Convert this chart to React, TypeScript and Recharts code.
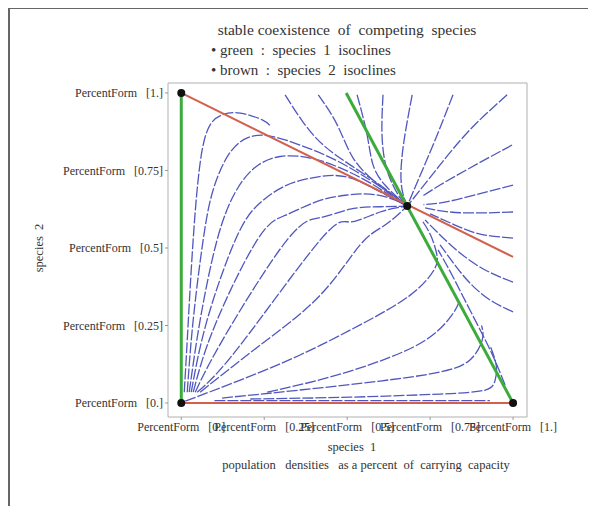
import React from 'react';
import { ComposedChart, Line, Scatter, XAxis, YAxis, ReferenceArea } from 'recharts';

type P = [number, number];

// axis ticks
const xTicks = [0, 0.25, 0.5, 0.75, 1];
const yTicks = [0, 0.25, 0.5, 0.75, 1];
const tickLabels = ['0.', '0.25', '0.5', '0.75', '1.'];

// isoclines
const green1: P[] = [[0, 0], [0, 1]];
const green2: P[] = [[0.497, 1], [1, 0]];
const red1: P[] = [[0, 1], [1, 0.471]];
const red2: P[] = [[0, 0], [1, 0]];

// equilibria
const equilibria: P[] = [[0, 0], [1, 0], [0, 1], [0.681, 0.635]];

// streamlines
const fan1: P[] = [[.009, .035], [.018, .203], [.030, .429], [.045, .655], [.063, .816], [.087, .897], [.123, .929], [.178, .935], [.244, .913], [.268, .894]];
const fan2: P[] = [[.018, .035], [.036, .268], [.066, .526], [.096, .687], [.142, .800], [.199, .855], [.268, .861], [.358, .832], [.464, .784], [.569, .719], [.645, .665], [.681, .635]];
const fan3: P[] = [[.024, .035], [.057, .268], [.108, .526], [.163, .680], [.223, .760], [.298, .795], [.389, .790], [.479, .758], [.569, .710], [.645, .658], [.681, .635]];
const fan4: P[] = [[.030, .035], [.078, .268], [.163, .526], [.232, .640], [.313, .700], [.404, .728], [.494, .730], [.584, .690], [.654, .650], [.681, .635]];
const fan5: P[] = [[.036, .035], [.102, .252], [.229, .526], [.313, .605], [.404, .648], [.494, .670], [.584, .672], [.660, .648], [.681, .635]];
const fan6: P[] = [[.042, .035], [.133, .219], [.319, .526], [.419, .598], [.509, .625], [.599, .633], [.681, .635]];
const fan7: P[] = [[.048, .035], [.178, .187], [.419, .526], [.509, .584], [.599, .616], [.681, .635]];
const fan8: P[] = [[.057, .035], [.238, .187], [.419, .348], [.539, .510], [.614, .574], [.681, .635]];
const loop1: P[] = [[.012, .006], [.178, .074], [.358, .155], [.539, .252], [.690, .348], [.762, .430], [.770, .480], [.752, .540], [.725, .590]];
const loop2: P[] = [[.259, .035], [.449, .084], [.630, .148], [.750, .213], [.816, .284], [.840, .332]];
const loop3: P[] = [[.123, .016], [.358, .042], [.599, .071], [.780, .100], [.870, .139], [.907, .203], [.905, .250]];
const loop4: P[] = [[.208, .013], [.509, .019], [.780, .029], [.916, .042], [.946, .074], [.949, .123], [.930, .187]];
const axisFlow: P[] = [[.10, .008], [.50, .008], [.93, .008]];
const rise1: P[] = [[.976, .058], [.931, .171], [.870, .300], [.816, .413], [.774, .494]];
const top1: P[] = [[.313, .994], [.367, .906], [.428, .832], [.509, .768], [.599, .703], [.681, .635]];
const top2: P[] = [[.413, .994], [.470, .897], [.518, .790], [.584, .713], [.645, .661], [.681, .635]];
const top3: P[] = [[.530, .994], [.560, .865], [.578, .768], [.614, .703], [.660, .655], [.681, .635]];
const top4: P[] = [[.608, .994], [.605, .865], [.620, .752], [.654, .671], [.681, .635]];
const top5: P[] = [[.696, .994], [.672, .850], [.662, .740], [.668, .675], [.681, .635]];
const top6: P[] = [[.819, .994], [.765, .848], [.714, .719], [.681, .635]];
const top7: P[] = [[.982, .994], [.870, .881], [.780, .768], [.720, .687], [.681, .635]];
const edge1: P[] = [[.997, .832], [.870, .758], [.780, .703], [.728, .668]];
const edge2: P[] = [[1.0, .703], [.886, .671], [.795, .648], [.730, .640]];
const edge3: P[] = [[1.0, .616], [.901, .613], [.810, .616], [.735, .629]];
const edge4: P[] = [[1.0, .532], [.901, .545], [.825, .574], [.750, .610]];
const edge5: P[] = [[1.0, .390], [.916, .429], [.840, .484], [.780, .542], [.735, .590]];
const edge6: P[] = [[1.0, .294], [.931, .332], [.870, .387], [.825, .445], [.780, .510]];

const streamlines: P[][] = [fan1, fan2, fan3, fan4, fan5, fan6, fan7, fan8, loop1, loop2, loop3, loop4, axisFlow, rise1,
  top1, top2, top3, top4, top5, top6, top7, edge1, edge2, edge3, edge4, edge5, edge6];

const toObj = (pts: P[]) => pts.map(([x, y]) => ({ x, y }));

const FONT = '"Liberation Serif", "Times New Roman", serif';
const NB = '\u00a0';

const fmt = (v: number) => {
  const i = xTicks.indexOf(v);
  return `PercentForm${NB}${NB}${NB}[${tickLabels[i >= 0 ? i : 0]}]`;
};

export default function App() {
  return (
    <div style={{ position: 'relative', width: 580, height: 498, fontFamily: FONT, color: '#333' }}>
      <div style={{ position: 'absolute', left: 0, top: -1, width: 580, height: 2, background: '#666' }} />
      <div style={{ position: 'absolute', left: 0, top: -1, width: 2, height: 500, background: '#666' }} />
      <div style={{ position: 'absolute', left: 0, width: 678, top: 12, textAlign: 'center', fontSize: 15.5, lineHeight: '19px', whiteSpace: 'pre' }}>
        {`stable coexistence  of  competing  species`}
      </div>
      <div style={{ position: 'absolute', left: 203, top: 33, fontSize: 15, lineHeight: '18px', whiteSpace: 'pre' }}>
        {`• green  :  species  1  isoclines`}
      </div>
      <div style={{ position: 'absolute', left: 203, top: 53, fontSize: 15, lineHeight: '18px', whiteSpace: 'pre' }}>
        {`• brown  :  species  2  isoclines`}
      </div>
      <div style={{ position: 'absolute', left: 31, top: 240, fontSize: 12.5, whiteSpace: 'pre', transform: 'translate(-50%, -50%) rotate(-90deg)' }}>
        {`species  2`}
      </div>
      <div style={{ position: 'absolute', left: 0, width: 688, top: 432, textAlign: 'center', fontSize: 12.5, whiteSpace: 'pre' }}>
        {`species  1`}
      </div>
      <div style={{ position: 'absolute', left: 0, width: 716, top: 450, textAlign: 'center', fontSize: 12.5, whiteSpace: 'pre' }}>
        {`population   densities   as a percent  of  carrying  capacity`}
      </div>
      <div style={{ position: 'absolute', left: 0, top: 0 }}>
        <ComposedChart width={580} height={490} margin={{ top: 75, right: 61, left: 8, bottom: 51 }}>
          <XAxis
            type="number"
            dataKey="x"
            domain={[-0.04, 1.042]}
            ticks={xTicks}
            allowDataOverflow
            interval={0}
            height={30}
            axisLine={false}
            tickLine={{ stroke: '#999' }}
            tickSize={3}
            tickFormatter={fmt}
            tick={{ fontFamily: FONT, fontSize: 12, fill: '#333' }}
          />
          <YAxis
            type="number"
            dataKey="y"
            domain={[-0.045, 1.032]}
            ticks={yTicks}
            allowDataOverflow
            interval={0}
            width={152}
            axisLine={false}
            tickLine={{ stroke: '#999' }}
            tickSize={3}
            tickFormatter={fmt}
            tick={{ fontFamily: FONT, fontSize: 12, fill: '#333' }}
          />
          <ReferenceArea x1={-0.04} x2={1.042} y1={-0.045} y2={1.032} fill="none" stroke="#b0b0b0" strokeWidth={1} ifOverflow="visible" />
          {streamlines.map((s, i) => (
            <Line
              key={'s' + i}
              data={toObj(s)}
              dataKey="y"
              type="natural"
              stroke="#5057bf"
              strokeWidth={1.3}
              strokeDasharray="11 2"
              dot={false}
              activeDot={false}
              isAnimationActive={false}
              legendType="none"
            />
          ))}
          <Line data={toObj(red1)} dataKey="y" type="linear" stroke="#d2604c" strokeWidth={2} dot={false} activeDot={false} isAnimationActive={false} />
          <Line data={toObj(red2)} dataKey="y" type="linear" stroke="#d2604c" strokeWidth={2} dot={false} activeDot={false} isAnimationActive={false} />
          <Line data={toObj(green1)} dataKey="y" type="linear" stroke="#3cab3c" strokeWidth={3} dot={false} activeDot={false} isAnimationActive={false} />
          <Line data={toObj(green2)} dataKey="y" type="linear" stroke="#3cab3c" strokeWidth={3} dot={false} activeDot={false} isAnimationActive={false} />
          <Scatter
            data={toObj(equilibria)}
            dataKey="y"
            isAnimationActive={false}
            shape={(p: any) => <circle cx={p.cx} cy={p.cy} r={4} fill="#111" />}
          />
        </ComposedChart>
      </div>
    </div>
  );
}
